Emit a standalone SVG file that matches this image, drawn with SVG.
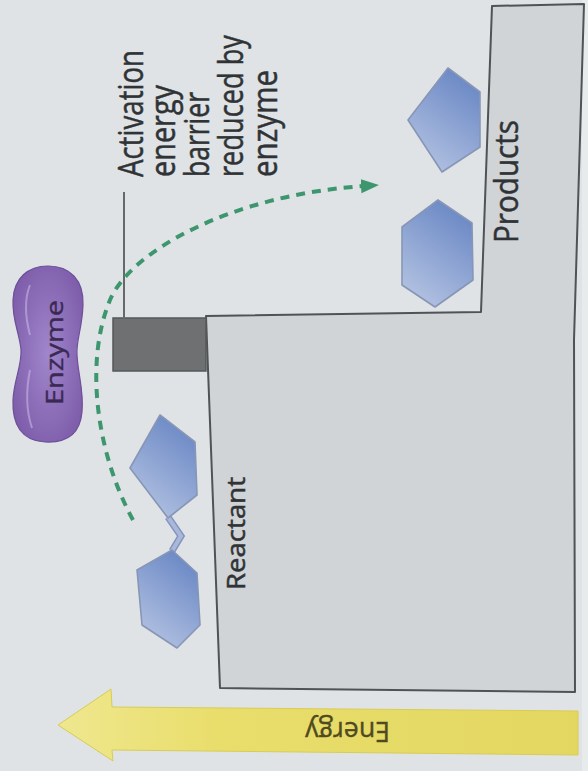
<svg xmlns="http://www.w3.org/2000/svg" width="588" height="771" viewBox="0 0 588 771">
  <style>
    .lbl { font-family: "Open Sans", "Noto Sans", "Liberation Sans", sans-serif; fill: #303336; stroke: #303336; stroke-width: 0.5; }
    .mol { fill: url(#molFill); stroke: #8796b6; stroke-width: 1.6; stroke-linejoin: round; }
    .path { fill: none; stroke: #3d966e; stroke-width: 4; stroke-dasharray: 9 7; }
  </style>
  <defs>
    <linearGradient id="molFill" x1="0.75" y1="0" x2="0.25" y2="1">
      <stop offset="0" stop-color="#6886c4"/>
      <stop offset="1" stop-color="#b4c3e2"/>
    </linearGradient>
    <radialGradient id="enzFill" cx="0.5" cy="0.5" r="0.6">
      <stop offset="0" stop-color="#a086cc"/>
      <stop offset="1" stop-color="#7d5ca9"/>
    </radialGradient>
    <linearGradient id="arrowFill" x1="0" y1="0" x2="1" y2="0">
      <stop offset="0" stop-color="#efe78f"/>
      <stop offset="0.3" stop-color="#e9de6c"/>
      <stop offset="1" stop-color="#e3d761"/>
    </linearGradient>
    <marker id="head" markerUnits="userSpaceOnUse" markerWidth="20" markerHeight="16" refX="3" refY="7" orient="auto">
      <path d="M0,0 L18,7 L0,14 Z" fill="#3d966e"/>
    </marker>
  </defs>

  <!-- paper -->
  <rect width="588" height="771" fill="#dfe3e5"/>
  <rect x="582" y="0" width="6" height="771" fill="#e8ebec"/>

  <!-- energy levels: reactant step and product step -->
  <g id="levels">
    <polygon points="492,6 584,4 574,340 575,692 220,688 206,316 481,312" fill="#d0d4d7" stroke="#505356" stroke-width="2" stroke-linejoin="round"/>
    <text class="lbl" transform="translate(245,590) rotate(-90)" font-size="25" textLength="113" lengthAdjust="spacingAndGlyphs">Reactant</text>
    <text class="lbl" transform="translate(518,243) rotate(-90)" font-size="32" textLength="123" lengthAdjust="spacingAndGlyphs">Products</text>
  </g>

  <!-- activation energy barrier -->
  <g id="barrier">
    <rect x="113" y="318" width="93" height="53" fill="#6e7072" stroke="#55585a" stroke-width="1.5"/>
    <line x1="124" y1="192" x2="124" y2="319" stroke="#66696b" stroke-width="2"/>
    <g class="lbl" font-size="34">
      <text transform="translate(143,177) rotate(-90)" textLength="127" lengthAdjust="spacingAndGlyphs">Activation</text>
      <text transform="translate(175,177) rotate(-90)" textLength="92" lengthAdjust="spacingAndGlyphs">energy</text>
      <text transform="translate(209,177) rotate(-90)" textLength="85" lengthAdjust="spacingAndGlyphs">barrier</text>
      <text transform="translate(243,177) rotate(-90)" textLength="142" lengthAdjust="spacingAndGlyphs">reduced by</text>
      <text transform="translate(277,177) rotate(-90)" textLength="107" lengthAdjust="spacingAndGlyphs">enzyme</text>
    </g>
  </g>

  <!-- enzyme -->
  <g id="enzyme">
    <path d="M48,266 C70,266 84,280 83,305 C82,330 76,340 77,355 C78,375 84,390 82,412 C80,435 65,443 45,442 C22,441 12,425 13,400 C14,380 22,365 21,350 C20,335 12,320 13,300 C14,278 28,266 48,266 Z" fill="url(#enzFill)" stroke="#6e4f98" stroke-width="1.2"/>
    <path d="M30,285 C24,300 26,320 30,335 M30,370 C26,390 26,410 32,428" fill="none" stroke="#c7b4e4" stroke-width="2" opacity="0.6"/>
    <text transform="translate(63,405) rotate(-90)" font-family="Open Sans, Noto Sans, Liberation Sans, sans-serif" font-size="24" fill="#3b2954" stroke="#3b2954" stroke-width="0.4" textLength="105" lengthAdjust="spacingAndGlyphs">Enzyme</text>
  </g>

  <!-- reactant molecule: two linked rings -->
  <g id="reactant-molecule">
    <polyline points="168,517 181,536 172,551" fill="none" stroke="#8394bd" stroke-width="7" stroke-linejoin="miter"/>
    <polyline points="168,517 181,536 172,551" fill="none" stroke="#a9b8da" stroke-width="4"/>
    <polygon class="mol" points="160,415 195,442 197,495 168,518 130,468"/>
    <polygon class="mol" points="172,550 197,573 200,625 177,648 142,625 137,570"/>
  </g>

  <!-- product molecules -->
  <g id="product-molecules">
    <polygon class="mol" points="448,68 480,92 480,147 442,172 408,120"/>
    <polygon class="mol" points="438,200 472,223 473,280 435,307 402,285 402,227"/>
  </g>

  <!-- reaction pathway -->
  <g id="connectors">
    <path class="path" d="M133,520 C95,450 85,360 110,300 C130,252 230,195 364,186" marker-end="url(#head)"/>
  </g>

  <!-- energy axis -->
  <g id="energy-axis">
    <polygon points="58,725 111,689 112,707 578,711 578,755 112,750 113,761" fill="url(#arrowFill)" stroke="#d8cc55" stroke-width="1"/>
    <text transform="translate(390,722) rotate(180)" font-family="Open Sans, Noto Sans, Liberation Sans, sans-serif" font-size="28" fill="#4f4a1f" stroke="#4f4a1f" stroke-width="0.4" textLength="85" lengthAdjust="spacingAndGlyphs">Energy</text>
  </g>
</svg>
